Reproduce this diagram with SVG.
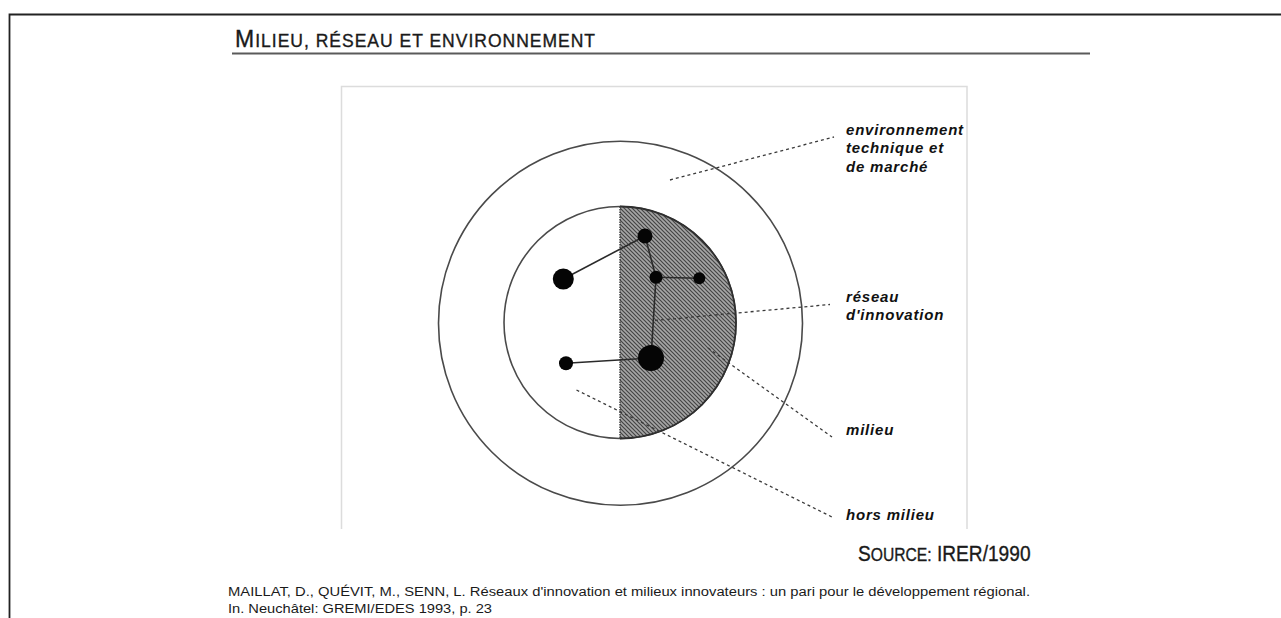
<svg xmlns="http://www.w3.org/2000/svg" width="1281" height="618" viewBox="0 0 1281 618">
  <defs>
    <pattern id="hatch" patternUnits="userSpaceOnUse" width="4" height="4">
      <rect width="4" height="4" fill="#a6a6a6"/>
      <path d="M-1,-1 L5,5 M-1,3 L1,5 M3,-1 L5,1" stroke="#444444" stroke-width="1.2"/>
    </pattern>
  </defs>
  <style>
    .ring { fill: none; stroke: #4a4a4a; stroke-width: 1.6; }
    .leader { fill: none; stroke: #3a3a3a; stroke-width: 1.3; stroke-dasharray: 3 3; }
    .edge { fill: none; stroke: #2a2a2a; stroke-width: 1.6; }
    .dot { fill: #050505; }
    .lbl { font-family: "Liberation Sans", Arial, sans-serif; font-weight: bold; font-style: italic; font-size: 15px; letter-spacing: 0.8px; fill: #111; }
    .title { font-family: "Liberation Sans", Arial, sans-serif; fill: #1a1a1a; stroke: #1a1a1a; stroke-width: 0.35px; }
    .cite { font-family: "Liberation Sans", Arial, sans-serif; font-size: 12.5px; fill: #1a1a1a; }
  </style>
  <rect width="1281" height="618" fill="#ffffff"/>

  <!-- page border -->
  <path d="M9.5,618 V14.5 H1281" fill="none" stroke="#222" stroke-width="1.8"/>

  <!-- title -->
  <text class="title" x="235" y="46.5" letter-spacing="1"><tspan font-size="23">M</tspan><tspan font-size="17.5">ILIEU, RÉSEAU ET ENVIRONNEMENT</tspan></text>
  <line x1="232" y1="53.5" x2="1090" y2="53.5" stroke="#5a5a5a" stroke-width="2"/>

  <!-- figure frame -->
  <path d="M341.5,529 V86.5 H967 V529" fill="none" stroke="#dcdcdc" stroke-width="1.5"/>

  <!-- rings -->
  <g id="environnement">
    <circle class="ring" cx="620.5" cy="323.3" r="182"/>
  </g>
  <g id="milieu">
    <circle class="ring" cx="620" cy="322.5" r="116"/>
  </g>
  <g id="reseau">
    <path d="M620,206.5 A116,116 0 0 1 620,438.5 Z" fill="url(#hatch)" stroke="none"/>
    <path d="M620,206.5 A116,116 0 0 1 620,438.5" fill="none" stroke="#2e2e2e" stroke-width="1.8"/>
    <line x1="620" y1="206.5" x2="620" y2="438.5" stroke="#3a3a3a" stroke-width="1.4" stroke-dasharray="1.5 1"/>
  </g>

  <!-- connectors -->
  <g id="connectors">
    <line class="edge" x1="563.3" y1="279" x2="645" y2="236"/>
    <line class="edge" x1="645" y1="236" x2="656" y2="277.3" stroke-width="2"/>
    <line class="edge" x1="656" y1="277.3" x2="699.3" y2="278.3"/>
    <line class="edge" x1="656" y1="277.3" x2="651" y2="358"/>
    <line class="edge" x1="566" y1="363.3" x2="651" y2="358"/>
    <line class="leader" x1="670" y1="180" x2="834" y2="137"/>
    <line class="leader" x1="655" y1="320.5" x2="830" y2="304.5"/>
    <line class="leader" x1="708" y1="348" x2="832" y2="437"/>
    <line class="leader" x1="576.5" y1="390" x2="832" y2="517"/>
  </g>

  <!-- nodes (actors) -->
  <g id="n1"><circle class="dot" cx="563.3" cy="279" r="10.5"/></g>
  <g id="n2"><circle class="dot" cx="645" cy="236" r="7.5"/></g>
  <g id="n3"><circle class="dot" cx="656" cy="277.3" r="6.5"/></g>
  <g id="n4"><circle class="dot" cx="699.3" cy="278.3" r="6"/></g>
  <g id="n5"><circle class="dot" cx="651" cy="358" r="13"/></g>
  <g id="n6"><circle class="dot" cx="566" cy="363.3" r="7"/></g>

  <!-- labels -->
  <g id="label-environnement">
    <text class="lbl" x="846" y="135">environnement</text>
    <text class="lbl" x="846" y="153">technique et</text>
    <text class="lbl" x="846" y="172">de marché</text>
  </g>
  <g id="label-reseau">
    <text class="lbl" x="846" y="302">réseau</text>
    <text class="lbl" x="846" y="320">d'innovation</text>
  </g>
  <g id="label-milieu">
    <text class="lbl" x="846" y="435">milieu</text>
  </g>
  <g id="label-hors">
    <text class="lbl" x="846" y="520">hors milieu</text>
  </g>

  <!-- source -->
  <text class="title" transform="translate(858,561) scale(0.87,1)"><tspan font-size="22">S</tspan><tspan font-size="18">OURCE:</tspan><tspan font-size="22"> IRER/1990</tspan></text>

  <!-- citation -->
  <text class="cite" x="228" y="596" textLength="802" lengthAdjust="spacingAndGlyphs">MAILLAT, D., QUÉVIT, M., SENN, L. Réseaux d'innovation et milieux innovateurs : un pari pour le développement régional.</text>
  <text class="cite" x="228" y="612.5" textLength="264" lengthAdjust="spacingAndGlyphs">In. Neuchâtel: GREMI/EDES 1993, p. 23</text>
</svg>
